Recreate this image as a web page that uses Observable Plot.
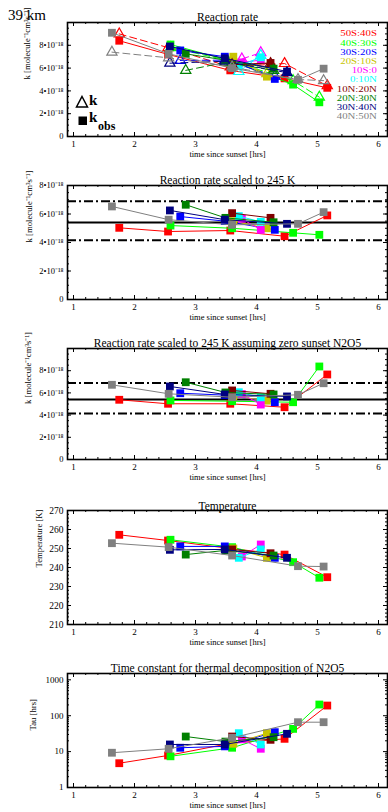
<!DOCTYPE html>
<html><head><meta charset="utf-8">
<script src="https://cdn.jsdelivr.net/npm/d3@7"></script>
<script src="https://cdn.jsdelivr.net/npm/@observablehq/plot@0.6"></script>
<style>
body{margin:0;background:#fff;}
#wrap{position:relative;width:388px;height:812px;font-family:"Liberation Serif",serif;overflow:hidden;}
.pn{position:absolute;left:0;}
.abs{position:absolute;line-height:1;white-space:nowrap;}
</style></head>
<body><div id="wrap"></div>
<script>
// ---------------- data ----------------
const bands = ["50S:40S","40S:30S","30S:20S","20S:10S","10S:0","0:10N","10N:20N","20N:30N","30N:40N","40N:50N"];
const bandColors = ["#ff0000","#00ff00","#0000ff","#c8c400","#ff00ff","#00ffff","#800000","#008000","#000080","#808080"];
// time since sunset [hrs]
const times = [
  [1.75,2.55,3.57,4.46,5.16],
  [2.59,3.60,4.60,5.03],
  [2.75,3.48,4.30],
  [3.62,4.17],
  [3.76,4.07],
  [3.71,4.07],
  [3.60,4.23],
  [2.84,3.49,4.28],
  [2.58,3.48,4.50],
  [1.63,2.56,3.60,4.68,5.10]
];
// reaction rate k_obs [1e-18 molecule-1 cm3 s-1] (squares)
const kObs = [
  [8.4,7.2,5.8,5.1,4.27],
  [8.07,6.6,4.55,3.0],
  [7.55,7.0,5.05],
  [7.0,5.25],
  [6.5,6.7],
  [6.2,6.95],
  [6.3,6.45],
  [7.25,6.7,5.95],
  [7.9,6.85,5.7],
  [9.1,7.25,6.0,4.97,5.95]
];
// reaction rate k [1e-18] (triangles)
const kModel = [
  [9.0,7.8,6.1,6.4,4.45],
  [7.8,6.6,4.9,3.45],
  [6.67,6.7,5.3],
  [6.7,5.5],
  [6.8,7.35],
  [5.7,7.1],
  [6.3,6.4],
  [5.8,6.5,5.8],
  [6.43,6.6,5.6],
  [7.4,6.9,6.1,5.0,4.9]
];
// reaction rate scaled to 245 K [1e-18]
const kScaled = [
  [5.03,4.77,4.84,4.44,5.9],
  [5.19,5.0,4.68,4.54],
  [5.82,5.5,4.89],
  [5.5,5.0],
  [5.66,4.89],
  [5.85,5.45],
  [6.06,5.73],
  [6.65,5.73,5.42],
  [6.25,5.6,5.31],
  [6.53,5.6,5.24,5.31,6.13]
];
// reaction rate scaled to 245 K assuming zero sunset N2O5 [1e-18]
const kScaledZero = [
  [5.38,5.02,5.02,4.71,7.66],
  [5.32,5.25,5.16,8.38],
  [5.97,5.8,5.16],
  [5.7,5.3],
  [5.9,4.95],
  [6.06,5.6],
  [6.22,5.92],
  [6.96,6.04,5.86],
  [6.58,5.86,5.68],
  [6.73,5.92,5.61,5.83,6.87]
];
// temperature [K]
const temperature = [
  [257.2,254.2,250.0,246.8,234.9],
  [254.6,250.7,242.8,234.6],
  [251.1,251.1,245.1],
  [250.0,245.1],
  [245.8,252.1],
  [245.1,249.5],
  [249.5,247.5],
  [246.8,249.0,246.3],
  [249.3,249.5,245.1],
  [252.8,250.7,246.3,240.7,240.5]
];
// time constant for thermal decomposition of N2O5 [hrs]
const tau = [
  [4.75,7.8,17,22.7,192],
  [7.4,12.8,43,205],
  [12.8,14,34.8],
  [16.5,32.6],
  [22,12],
  [32.6,15.8],
  [26.3,21.3],
  [26.3,19,25.2],
  [15.8,15.8,31.3],
  [9.3,12,24.3,66,66]
];
const refRate = [5.4];
const refLimits = [4.15, 6.9];
const xTicks = [1,2,3,4,5,6];
const kTicks = [0,2,4,6,8];
const tempTicks = [210,220,230,240,250,260,270];
const tauTicks = [1,10,100,1000];

// ---------------- build ----------------
const rows = [];
bands.forEach((band, i) => times[i].forEach((t, j) => rows.push({
  band, t, kObs: kObs[i][j], kModel: kModel[i][j], kScaled: kScaled[i][j],
  kScaledZero: kScaledZero[i][j], temp: temperature[i][j], tau: tau[i][j]
})));

const xMinor = d3.range(10, 61, 2).map(v => v / 10);
const sup = {"-":"⁻","0":"⁰","1":"¹","2":"²","3":"³","4":"⁴","5":"⁵","6":"⁶","7":"⁷","8":"⁸","9":"⁹"};
const kFmt = d => d === 0 ? "0" : `${d}•10${"-18".split("").map(c => sup[c]).join("")}`;
const kLabel = "k [molecule⁻¹cm³s⁻¹]";
const FW = 320; // frame width in px (388 - 67 - 1)

function seriesMarks(yKey, withModel) {
  const m = [];
  bands.forEach((band, i) => {
    const d = rows.filter(r => r.band === band);
    if (withModel) {
      m.push(Plot.line(d, {x: "t", y: "kModel", stroke: bandColors[i], strokeWidth: 1, strokeDasharray: "7,4"}));
      m.push(Plot.dot(d, {x: "t", y: "kModel", symbol: "triangle", stroke: bandColors[i], fill: "none", r: 3.8, strokeWidth: 1.2}));
    }
    m.push(Plot.line(d, {x: "t", y: yKey, stroke: bandColors[i], strokeWidth: 1}));
    m.push(Plot.dot(d, {x: "t", y: yKey, symbol: "square", fill: bandColors[i], r: 4.4}));
  });
  return m;
}

// inward-pointing ticks on all four sides of the frame
function frameTicks(yMaj, yMin, fh) {
  return [
    Plot.ruleX(xTicks, {insetTop: fh - 4}),
    Plot.ruleX(xMinor, {insetTop: fh - 2}),
    Plot.ruleX(xTicks, {insetBottom: fh - 4}),
    Plot.ruleX(xMinor, {insetBottom: fh - 2}),
    Plot.ruleY(yMaj, {insetRight: FW - 4}),
    Plot.ruleY(yMin, {insetRight: FW - 2}),
    Plot.ruleY(yMaj, {insetLeft: FW - 4}),
    Plot.ruleY(yMin, {insetLeft: FW - 2})
  ];
}

function panel(cfg) {
  const fh = cfg.height - cfg.marginTop - cfg.marginBottom;
  const marks = [
    ...(cfg.extra || []),
    ...seriesMarks(cfg.yKey, cfg.withModel),
    ...frameTicks(cfg.yMajTicks, cfg.yMinTicks, fh),
    Plot.frame({strokeWidth: 1.6}),
    Plot.axisX(xTicks, {anchor: "bottom", tickSize: 0, tickPadding: 4, fontSize: 9, label: null}),
    Plot.axisY(cfg.yLabTicks, {anchor: "left", tickSize: 0, tickPadding: 4, fontSize: cfg.yFont || 8.5, tickFormat: cfg.yFmt, label: null}),
    Plot.text([cfg.title], {frameAnchor: "top", dy: cfg.titleDy, fontSize: 11.5}),
    Plot.text(["time since sunset [hrs]"], {frameAnchor: "bottom", dy: 20, fontSize: 8.5}),
    Plot.text([cfg.yLabel], {frameAnchor: "left", dx: cfg.yLabelDx, rotate: -90, fontSize: 8.7})
  ];
  const p = Plot.plot({
    width: 388, height: cfg.height,
    marginLeft: 67, marginRight: 1, marginTop: cfg.marginTop, marginBottom: cfg.marginBottom,
    x: {domain: [0.9016, 6.1475]},
    y: {type: cfg.yType || "linear", domain: cfg.yDomain},
    style: {fontFamily: "'Liberation Serif', serif", fontSize: "9px", color: "#000", background: "transparent", overflow: "visible"},
    marks
  });
  const div = document.createElement("div");
  div.className = "pn";
  div.style.top = cfg.top + "px";
  div.appendChild(p);
  document.getElementById("wrap").appendChild(div);
}

const kMinor10 = d3.range(0, 101, 5).map(v => v / 10);
const kMinor8 = d3.range(0, 81, 5).map(v => v / 10);
const refMarks = [
  Plot.ruleY(refRate, {stroke: "#000", strokeWidth: 2}),
  Plot.ruleY(refLimits, {stroke: "#000", strokeWidth: 2, strokeDasharray: "9,3,2,3"})
];

panel({top: 0, height: 162, marginTop: 22, marginBottom: 26, yKey: "kObs", withModel: true,
  yDomain: [0, 10], yMajTicks: kTicks, yMinTicks: kMinor10, yLabTicks: kTicks, yFmt: kFmt,
  title: "Reaction rate", titleDy: -10, yLabel: kLabel, yLabelDx: -40});
panel({top: 162, height: 163, marginTop: 23, marginBottom: 26, yKey: "kScaled", extra: refMarks,
  yDomain: [0, 8], yMajTicks: kTicks, yMinTicks: kMinor8, yLabTicks: kTicks, yFmt: kFmt,
  title: "Reaction rate scaled to 245 K", titleDy: -9.5, yLabel: kLabel, yLabelDx: -38});
panel({top: 325, height: 162, marginTop: 23, marginBottom: 28, yKey: "kScaledZero", extra: refMarks,
  yDomain: [0, 10], yMajTicks: kTicks, yMinTicks: kMinor10, yLabTicks: kTicks, yFmt: kFmt,
  title: "Reaction rate scaled to 245 K assuming zero sunset N2O5", titleDy: -10, yLabel: kLabel, yLabelDx: -39});
panel({top: 487, height: 165, marginTop: 23, marginBottom: 28, yKey: "temp",
  yDomain: [210, 270], yMajTicks: tempTicks, yMinTicks: d3.range(210, 271, 2), yLabTicks: tempTicks, yFmt: d => String(d), yFont: 9.5,
  title: "Temperature", titleDy: -9, yLabel: "Temperature [K]", yLabelDx: -28});
panel({top: 652, height: 160, marginTop: 21, marginBottom: 25, yKey: "tau", yType: "log",
  yDomain: [1, 1500], yMajTicks: tauTicks,
  yMinTicks: [1,10,100,1000].flatMap(dec => d3.range(2, 10).map(m => m * dec)).filter(v => v <= 1500),
  yLabTicks: tauTicks, yFmt: d => String(d), yFont: 9,
  title: "Time constant for thermal decomposition of N2O5", titleDy: -9.5, yLabel: "Tau [hrs]", yLabelDx: -34});

// ---------------- annotations / legends ----------------
const wrap = document.getElementById("wrap");
function addAbs(html, css) {
  const el = document.createElement("div");
  el.className = "abs";
  el.innerHTML = html;
  Object.assign(el.style, css);
  wrap.appendChild(el);
  return el;
}
addAbs("39 km", {left: "8px", top: "8px", fontSize: "15px"});

const leg = addAbs("", {right: "11px", top: "29.4px", textAlign: "right", fontSize: "8.3px", transform: "scaleX(1.3)", transformOrigin: "right center"});
bands.forEach((b, i) => {
  const r = document.createElement("div");
  r.textContent = b;
  r.style.color = bandColors[i];
  r.style.lineHeight = "9.2px";
  r.style.height = "9.2px";
  leg.appendChild(r);
});

addAbs('<svg width="14" height="14"><polygon points="7,1.5 12.5,12 1.5,12" fill="none" stroke="#000" stroke-width="1.5"/></svg>', {left: "75px", top: "95px"});
addAbs('<svg width="12" height="12"><rect x="1.5" y="1.5" width="8.5" height="8.5" fill="#000"/></svg>', {left: "77px", top: "114px"});
addAbs("k", {left: "89px", top: "93.4px", fontSize: "15px", lineHeight: "15px", fontWeight: "bold"});
addAbs("k", {left: "89px", top: "110.4px", fontSize: "15px", lineHeight: "15px", fontWeight: "bold"});
addAbs("obs", {left: "98px", top: "120px", fontSize: "12px", lineHeight: "12px", fontWeight: "bold"});
</script>
</body></html>
